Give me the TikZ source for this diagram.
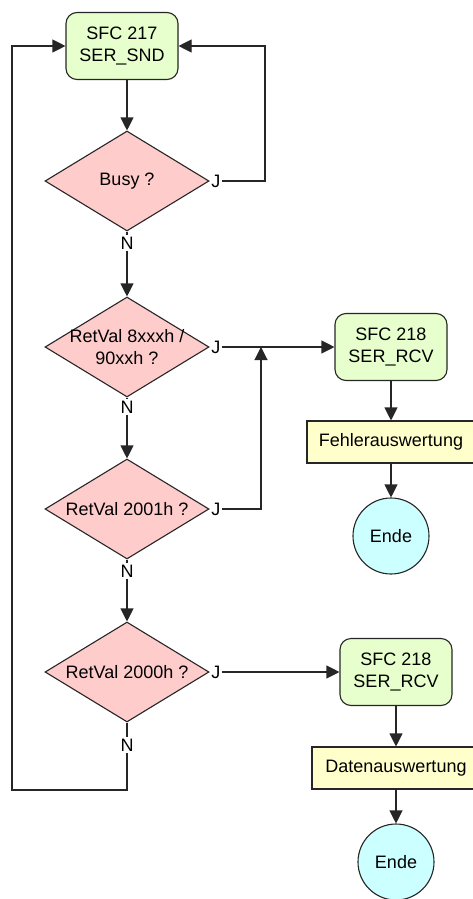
\documentclass[tikz,border=0pt]{standalone}
\usepackage{fontspec}
\setmainfont{Liberation Sans}
\usetikzlibrary{shapes.geometric,arrows.meta}
\definecolor{gfill}{HTML}{E6FFCC}
\definecolor{pfill}{HTML}{FFCCCC}
\definecolor{yfill}{HTML}{FFFFCC}
\definecolor{cfill}{HTML}{CCFFFF}
\tikzset{
  every node/.style={font=\fontsize{18}{22}\selectfont},
  ln/.style={draw=black!85, line width=1.1pt},
  arr/.style={ln, -{Triangle[length=13pt,width=13pt]}},
  sfc/.style={draw=black!85, line width=1.1pt, fill=gfill, rounded corners=11pt, minimum width=112pt, minimum height=67pt, inner sep=0pt, align=center},
  dia/.style={diamond, draw=black!85, line width=1.1pt, fill=pfill, minimum width=164pt, minimum height=100pt, inner sep=0pt},
  dtxt/.style={align=center, inner sep=0pt},
  ybox/.style={draw=black!85, line width=1.1pt, fill=yfill, minimum width=168pt, minimum height=42pt, inner sep=0pt},
  endc/.style={circle, draw=black!85, line width=1.1pt, fill=cfill, minimum size=76pt, inner sep=0pt},
  lbl/.style={inner sep=1.5pt},
}
\begin{document}
\begin{tikzpicture}[x=1pt,y=-1pt]
\useasboundingbox (0,0) rectangle (472,899);
% main column
\node[sfc] (s217) at (122,46) {SFC 217\\SER\_SND};
\node[dia] (busy) at (127,181) {};
\node[dtxt] (tbusy) at (busy.center) {Busy ?};
\node[dia] (d2) at (127,347) {};
\node[dtxt] (td2) at (d2.center) {RetVal 8xxxh /\\90xxh ?};
\node[dia] (d3) at (127,509) {};
\node[dtxt] (td3) at (d3.center) {RetVal 2001h ?};
\node[dia] (d4) at (127,672) {};
\node[dtxt] (td4) at (d4.center) {RetVal 2000h ?};
% N labels
\node[lbl] (nb) at (127,243) {N};
\node[lbl] (n2) at (127,407) {N};
\node[lbl] (n3) at (127,571) {N};
\node[lbl] (n4) at (127,745) {N};
% J labels
\node[lbl, anchor=west] (jb) at (busy.east) {J};
\node[lbl, anchor=west] (j2) at (d2.east) {J};
\node[lbl, anchor=west] (j3) at (d3.east) {J};
\node[lbl, anchor=west] (j4) at (d4.east) {J};
% right column
\node[sfc] (s218a) at (391,347) {SFC 218\\SER\_RCV};
\node[ybox] (fehl) at (391,442) {Fehlerauswertung};
\node[endc] (ende1) at (391,536) {Ende};
\node[sfc] (s218b) at (396,672) {SFC 218\\SER\_RCV};
\node[ybox] (daten) at (396,768) {Datenauswertung};
\node[endc] (ende2) at (396,862) {Ende};
% helper coordinates
\coordinate (cb) at (265,120);
\coordinate (m3) at (261,347);
\coordinate (lb) at (12,790);
% connectors
\draw[arr] (s217.south -| busy.north) -- (busy.north);
\draw[ln] (busy.south) -- (nb.north);
\draw[arr] (nb.south) -- (d2.north);
\draw[ln] (d2.south) -- (n2.north);
\draw[arr] (n2.south) -- (d3.north);
\draw[ln] (d3.south) -- (n3.north);
\draw[arr] (n3.south) -- (d4.north);
\draw[ln] (d4.south) -- (n4.north);
\draw[arr] (jb.east) -| (cb) |- (s217.east);
\draw[arr] (n4.south) |- (lb) |- (s217.west);
\draw[arr] (j2.east) -- (s218a.west);
\draw[arr] (j3.east) -| (m3);
\draw[arr] (j4.east) -- (s218b.west);
\draw[arr] (s218a.south) -- (fehl.north);
\draw[arr] (fehl.south) -- (ende1.north);
\draw[arr] (s218b.south) -- (daten.north);
\draw[arr] (daten.south) -- (ende2.north);
\end{tikzpicture}
\end{document}
